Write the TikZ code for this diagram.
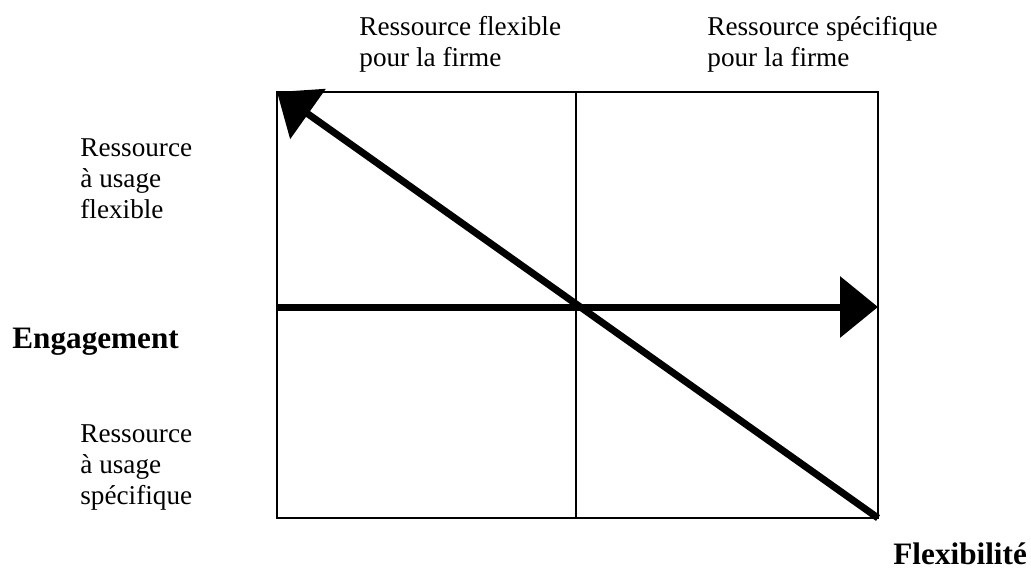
\documentclass[tikz,border=0pt]{standalone}
\usepackage{fontspec}
\setmainfont{Liberation Serif}
\usetikzlibrary{arrows.meta,positioning}

\tikzset{
	label text/.style = {anchor=north west, inner sep=0pt, align=left, font=\fontsize{13.6}{15.5}\selectfont},
	axis name/.style = {anchor=base west, inner sep=0pt, font=\fontsize{15.6}{18}\selectfont\bfseries},
	frame/.style = {line width=1pt},
	thick arrow/.style = {line width=3.5pt, -{Triangle[length=19pt,width=30pt]}},
}

\begin{document}
\begin{tikzpicture}[x=0.5pt,y=-0.5pt]
	\useasboundingbox (0,0) rectangle (1031,572);

	% corners of the grid
	\coordinate (tl) at (277,92);
	\coordinate (tr) at (878,92);
	\coordinate (bl) at (277,518);
	\coordinate (br) at (878,518);
	\coordinate (mt) at (576,92);
	\coordinate (mb) at (576,518);
	\coordinate (ml) at (277,307);
	\coordinate (mr) at (878,307);

	% grid
	\draw[frame] (tl) rectangle (br);
	\draw[line width=0.8pt] (mt) -- (mb);

	% arrows
	\draw[thick arrow] (ml) -- (mr);
	\draw[thick arrow] (br) -- (tl);

	% texts
	\node[label text] (colflex) at (359,16) {Ressource flexible\\pour la firme};
	\node[label text] (colspec) at (707,16) {Ressource spécifique\\pour la firme};
	\node[label text] (rowflex) at (80,138) {Ressource\\à usage\\flexible};
	\node[label text] (rowspec) at (80,424) {Ressource\\à usage\\spécifique};
	\node[axis name] (engage) at (12,348) {Engagement};
	\node[axis name] (flexi) at (893,564) {Flexibilité};

\end{tikzpicture}
\end{document}
